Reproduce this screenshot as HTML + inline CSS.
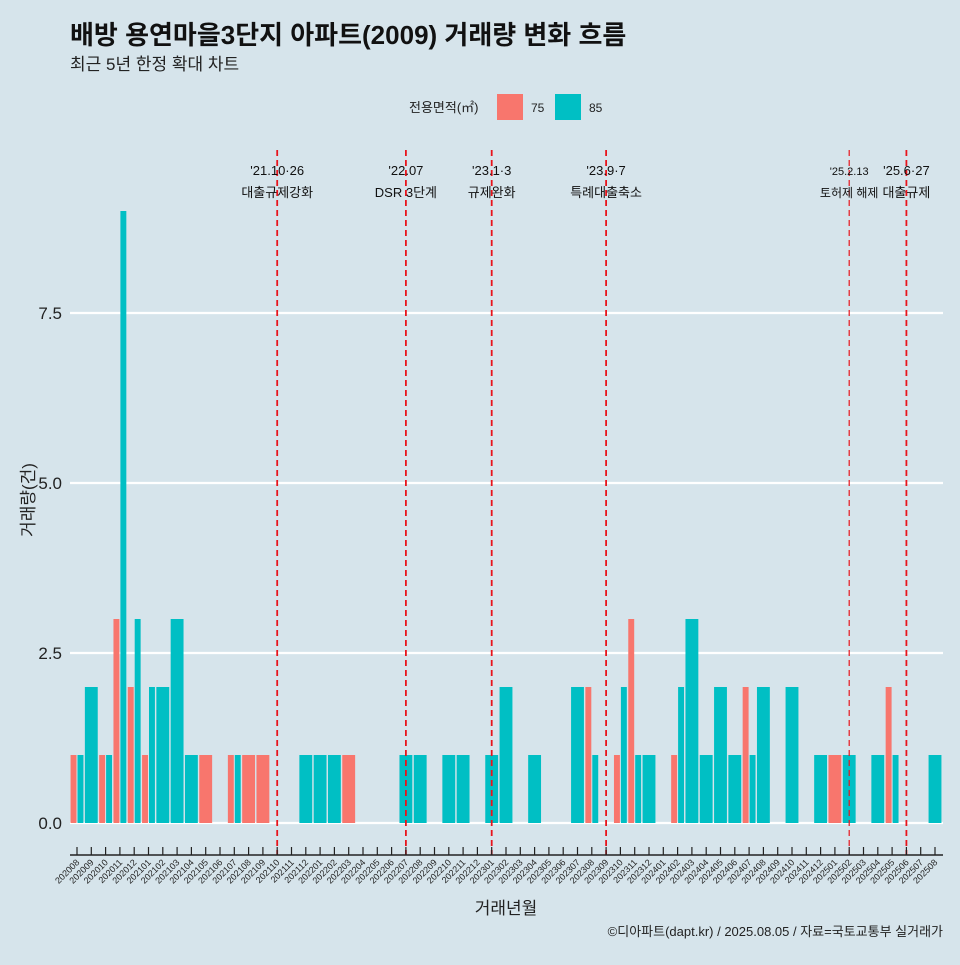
<!DOCTYPE html>
<html><head><meta charset="utf-8"><style>
body{margin:0;background:#d6e4eb;}
svg text{font-family:"Liberation Sans","Noto Sans CJK KR",sans-serif;}
</style></head><body>
<svg id="chart" width="960" height="960" xmlns="http://www.w3.org/2000/svg">
<rect width="960" height="960" fill="#d6e4eb"/>
<text x="70" y="44" font-size="26" font-weight="bold" fill="#111">배방 용연마을3단지 아파트(2009) 거래량 변화 흐름</text>
<text x="70" y="70" font-size="17" fill="#222">최근 5년 한정 확대 차트</text>
<g>
<text x="409" y="112" font-size="13" fill="#222">전용면적(㎡)</text>
<rect x="497" y="94" width="26" height="26" fill="#f8766d"/>
<text x="531" y="112" font-size="12" fill="#222">75</text>
<rect x="555" y="94" width="26" height="26" fill="#00bfc4"/>
<text x="589" y="112" font-size="12" fill="#222">85</text>
</g>
<g id="grid"></g><g id="bars"></g><g id="events"></g><g id="axes"></g>
<text transform="translate(34,500) rotate(-90)" text-anchor="middle" font-size="17" fill="#222">거래량(건)</text>
<text x="506" y="914" text-anchor="middle" font-size="17" fill="#222">거래년월</text>
<text x="943" y="936" text-anchor="end" font-size="13" fill="#222">©디아파트(dapt.kr) / 2025.08.05 / 자료=국토교통부 실거래가</text>
</svg>
<script>
const months=[];for(let y=2020;y<=2025;y++)for(let m=1;m<=12;m++){const k=y*100+m;if(k>=202008&&k<=202508)months.push(String(k));}
const s75=[1,0,1,3,2,1,0,0,0,1,0,1,1,1,0,0,0,0,0,1,0,0,0,0,0,0,0,0,0,0,0,0,0,0,0,0,2,0,1,3,0,0,1,0,0,0,0,2,0,0,0,0,0,1,0,0,0,2,0,0,0];
const s85=[1,2,1,9,3,2,2,3,1,0,0,1,0,0,0,0,1,1,1,0,0,0,0,1,1,0,1,1,0,1,2,0,1,0,0,2,1,0,2,1,1,0,2,3,1,2,1,1,2,0,2,0,1,0,1,0,1,1,0,0,1];
const yTicks=[0,2.5,5,7.5];const yTickLabels=["0.0","2.5","5.0","7.5"];
const events=["202110","202207","202301","202309","202502","202506"];
const eventL1=["'21.10·26","'22.07","'23.1·3","'23.9·7","'25.2.13","'25.6·27"];
const eventL2=["대출규제강화","DSR 3단계","규제완화","특례대출축소","토허제 해제","대출규제"];
const NS="http://www.w3.org/2000/svg";
const x0=77,step=(935-77)/60,y0=823,py=68;
const X=i=>x0+i*step, Y=v=>y0-v*py;
function mk(t,a,p){const e=document.createElementNS(NS,t);for(const k in a)e.setAttribute(k,a[k]);document.getElementById(p).appendChild(e);return e;}
yTicks.forEach((v,i)=>{
 const l=mk('line',{x1:70,x2:943,y1:Y(v),y2:Y(v),stroke:'#fff','stroke-width':2.2},'grid');
 
 
 const t=mk('text',{x:62,y:Y(v)+6,'text-anchor':'end','font-size':17,fill:'#222'},'axes');t.textContent=yTickLabels[i];
 
 
});
const bw=step*0.9;
months.forEach((m,i)=>{
 const a=s75[i],b=s85[i];const c=X(i);
 const both=a>0&&b>0;
 if(a>0){const r=mk('rect',{x:both?c-bw/2:c-bw/2,y:Y(a),width:both?bw/2-0.5:bw,height:a*py,fill:'#f8766d'},'bars');
  
  }
 if(b>0){const r=mk('rect',{x:both?c+0.5:c-bw/2,y:Y(b),width:both?bw/2-0.5:bw,height:b*py,fill:'#00bfc4'},'bars');
  
  }
 const tk=mk('line',{x1:c,x2:c,y1:847,y2:855,stroke:'#222','stroke-width':1.2},'axes');
 
 
 const t=mk('text',{x:c+3,y:863,'text-anchor':'end','font-size':9,fill:'#222',transform:`rotate(-45 ${c+3} 863)`},'axes');t.textContent=m;
 
 
});
const ax=mk('line',{x1:70,x2:943,y1:855,y2:855,stroke:'#222','stroke-width':1.5},'axes');


events.forEach((e,k)=>{
 const i=months.indexOf(e);const c=X(i);const small=k===4;
 const l=mk('line',{x1:c,x2:c,y1:150,y2:855,stroke:'#e8141c','stroke-width':small?1.2:1.8,'stroke-dasharray':'6,4'},'events');
 
 
 const t1=mk('text',{x:c,y:175,'text-anchor':'middle','font-size':small?11:13,fill:'#111'},'events');t1.textContent=eventL1[k];
 
 
 const t2=mk('text',{x:c,y:197,'text-anchor':'middle','font-size':small?12:13,fill:'#111'},'events');t2.textContent=eventL2[k];
 
 
});
</script>
</body></html>
